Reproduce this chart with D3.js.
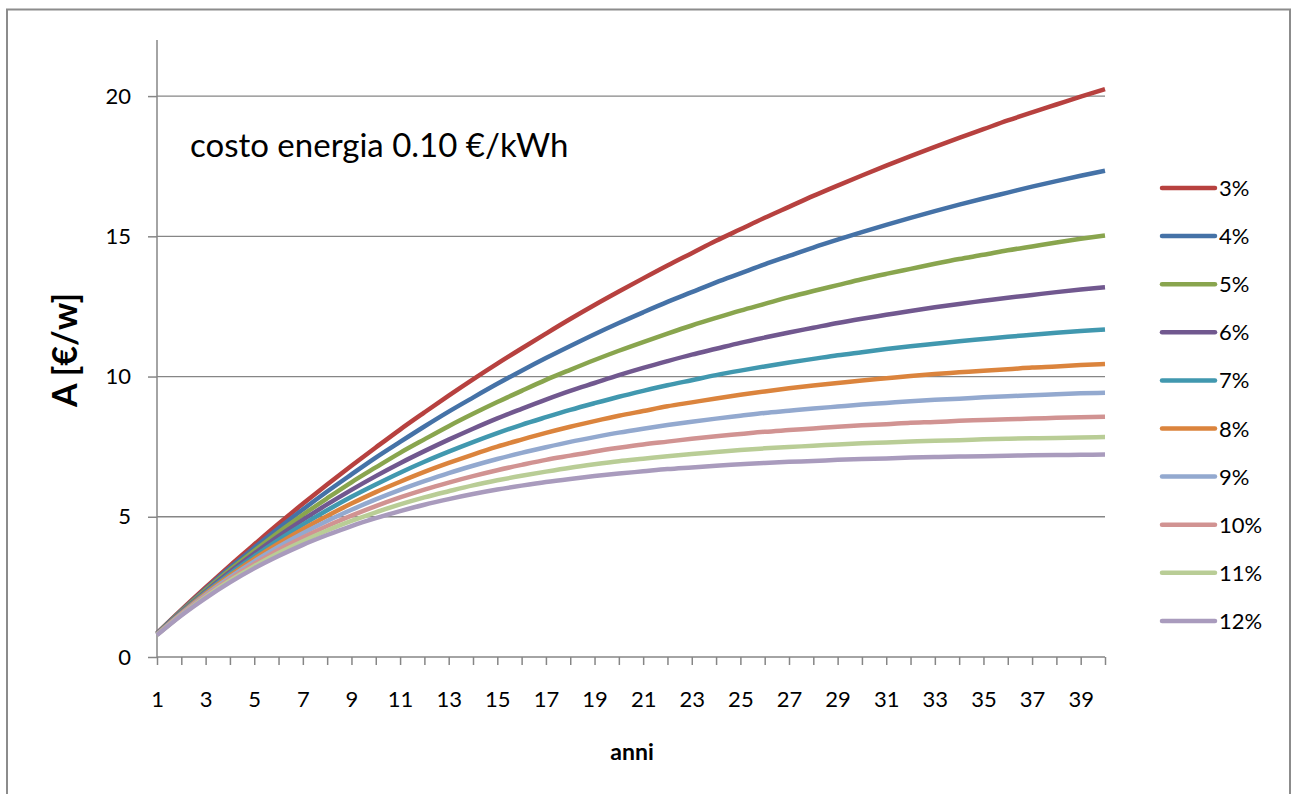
<!DOCTYPE html>
<html>
<head>
<meta charset="utf-8">
<script src="https://cdn.jsdelivr.net/npm/d3@7"></script>
<style>
  body { margin: 0; background: #fff; }
  text { font-family: Lato, "Open Sans", sans-serif; fill: #000; }
</style>
</head>
<body>
<script>
// anni 1..40
var years = d3.range(1, 41);
var yTicks = [0, 5, 10, 15, 20];
var rates = ['3%', '4%', '5%', '6%', '7%', '8%', '9%', '10%', '11%', '12%'];
var colors = ['#B7413F', '#4572A7', '#89A54E', '#71588F', '#4198AF', '#DB843D', '#93A9CF', '#D19392', '#B9CD96', '#A99BBD'];

var r3 = [0.85,1.68,2.48,3.26,4.01,4.75,5.46,6.15,6.82,7.47,8.11,8.72,9.32,9.90,10.46,11.00,11.53,12.05,12.55,13.03,
          13.50,13.96,14.40,14.84,15.25,15.66,16.05,16.44,16.81,17.17,17.52,17.86,18.19,18.51,18.82,19.13,19.42,19.70,19.98,20.25];
var r4 = [0.84,1.65,2.43,3.18,3.90,4.59,5.26,5.90,6.51,7.11,7.67,8.22,8.75,9.25,9.74,10.21,10.66,11.09,11.51,11.91,
          12.29,12.66,13.01,13.36,13.68,14.00,14.30,14.60,14.88,15.15,15.41,15.66,15.90,16.13,16.35,16.56,16.77,16.97,17.16,17.34];
var r5 = [0.83,1.63,2.39,3.11,3.79,4.45,5.07,5.66,6.23,6.76,7.28,7.76,8.23,8.67,9.09,9.49,9.88,10.24,10.59,10.92,
          11.23,11.53,11.82,12.09,12.35,12.59,12.83,13.05,13.26,13.47,13.66,13.84,14.02,14.19,14.34,14.50,14.64,14.78,14.91,15.03];
var r6 = [0.83,1.61,2.34,3.04,3.69,4.31,4.89,5.44,5.96,6.45,6.91,7.34,7.75,8.14,8.51,8.85,9.18,9.49,9.77,10.05,
          10.31,10.55,10.78,10.99,11.20,11.39,11.57,11.74,11.91,12.06,12.20,12.34,12.47,12.59,12.70,12.81,12.91,13.01,13.10,13.18];
var r7 = [0.82,1.58,2.30,2.97,3.59,4.18,4.72,5.23,5.71,6.15,6.57,6.96,7.32,7.66,7.98,8.28,8.55,8.81,9.05,9.28,
          9.49,9.69,9.87,10.05,10.21,10.36,10.50,10.63,10.76,10.87,10.98,11.08,11.17,11.26,11.34,11.42,11.49,11.56,11.62,11.68];
var r8 = [0.81,1.56,2.26,2.90,3.50,4.05,4.56,5.03,5.47,5.88,6.25,6.60,6.92,7.22,7.50,7.75,7.99,8.21,8.41,8.60,
          8.77,8.94,9.08,9.22,9.35,9.47,9.58,9.68,9.77,9.86,9.94,10.02,10.09,10.15,10.21,10.26,10.32,10.36,10.41,10.45];
var r9 = [0.80,1.54,2.22,2.84,3.41,3.93,4.41,4.85,5.25,5.62,5.96,6.27,6.56,6.82,7.06,7.28,7.48,7.67,7.84,8.00,
          8.14,8.27,8.39,8.50,8.60,8.70,8.78,8.86,8.93,9.00,9.06,9.12,9.17,9.21,9.26,9.30,9.33,9.37,9.40,9.42];
var r10 = [0.80,1.52,2.18,2.78,3.32,3.82,4.26,4.67,5.04,5.38,5.69,5.97,6.22,6.45,6.66,6.85,7.03,7.18,7.33,7.46,
           7.58,7.68,7.78,7.87,7.95,8.03,8.09,8.15,8.21,8.26,8.30,8.35,8.38,8.42,8.45,8.48,8.50,8.53,8.55,8.57];
var r11 = [0.79,1.50,2.14,2.72,3.24,3.71,4.13,4.51,4.85,5.16,5.44,5.69,5.91,6.12,6.30,6.46,6.61,6.75,6.87,6.98,
           7.07,7.16,7.24,7.31,7.38,7.44,7.49,7.53,7.58,7.62,7.65,7.68,7.71,7.73,7.76,7.78,7.80,7.81,7.83,7.84];
var r12 = [0.78,1.48,2.10,2.66,3.16,3.60,4.00,4.35,4.67,4.95,5.20,5.43,5.63,5.81,5.97,6.11,6.24,6.35,6.45,6.54,
           6.62,6.70,6.76,6.82,6.87,6.92,6.96,6.99,7.03,7.06,7.08,7.11,7.13,7.15,7.16,7.18,7.19,7.20,7.21,7.22];

var seriesValues = [r3, r4, r5, r6, r7, r8, r9, r10, r11, r12];

var W = 1291, H = 794;
var margin = {top: 40, right: 186, bottom: 137, left: 157},
    width = W - margin.left - margin.right,
    height = H - margin.top - margin.bottom;

var svg = d3.select("body").append("svg")
    .attr("width", W)
    .attr("height", H);

// outer chart border
svg.append("rect")
    .attr("x", 7).attr("y", 9.5)
    .attr("width", 1283).attr("height", 800)
    .attr("fill", "none")
    .attr("stroke", "#8c8c8c")
    .attr("stroke-width", 2);

var g = svg.append("g")
    .attr("transform", "translate(" + margin.left + "," + margin.top + ")");

var x = d3.scalePoint()
    .domain(years)
    .range([0, width]);

var y = d3.scaleLinear()
    .domain([0, 22])
    .range([height, 0]);

// gridlines
g.selectAll(".grid")
  .data(yTicks.filter(function(d) { return d > 0; }))
  .enter().append("line")
    .attr("x1", 0).attr("x2", width)
    .attr("y1", function(d) { return y(d); })
    .attr("y2", function(d) { return y(d); })
    .attr("stroke", "#868686")
    .attr("stroke-width", 1.3);

// y axis
var yAxis = g.append("g")
    .call(d3.axisLeft(y).tickValues(yTicks).tickSize(9).tickPadding(17));
yAxis.select(".domain").remove();
yAxis.append("line")
    .attr("x1", 0).attr("x2", 0)
    .attr("y1", 0).attr("y2", height)
    .attr("stroke", "#868686").attr("stroke-width", 1.5);
yAxis.selectAll(".tick line").attr("stroke", "#868686").attr("stroke-width", 1.5);
yAxis.selectAll("text").style("font-size", "22px").attr("font-family", "Lato, sans-serif");

// x axis
var xAxis = g.append("g")
    .attr("transform", "translate(0," + height + ")")
    .call(d3.axisBottom(x).tickSize(8).tickPadding(26)
      .tickFormat(function(d) { return d % 2 === 1 ? d : ""; }));
xAxis.select(".domain").attr("stroke", "#868686").attr("stroke-width", 1.5)
    .attr("d", "M0,0H" + width);
xAxis.selectAll(".tick line").attr("stroke", "#868686").attr("stroke-width", 1.5);
xAxis.selectAll("text").style("font-size", "22px").attr("font-family", "Lato, sans-serif");

// lines
var line = d3.line()
    .x(function(d, i) { return x(years[i]); })
    .y(function(d) { return y(d); })
    .curve(d3.curveMonotoneX);

g.selectAll(".serie")
  .data(seriesValues)
  .enter().append("path")
    .attr("d", line)
    .attr("fill", "none")
    .attr("stroke", function(d, i) { return colors[i]; })
    .attr("stroke-width", 4.5)
    .attr("stroke-linejoin", "round");

// annotation
g.append("text")
    .attr("x", 33).attr("y", 117)
    .style("font-size", "33px")
    .text("costo energia 0.10 €/kWh");

// axis titles
svg.append("text")
    .attr("x", 632).attr("y", 760)
    .attr("text-anchor", "middle")
    .style("font-size", "23px").style("font-weight", "bold")
    .text("anni");

svg.append("text")
    .attr("transform", "translate(77,350) rotate(-90)")
    .attr("text-anchor", "middle")
    .style("font-size", "34px").style("font-weight", "bold")
    .text("A [€/w]");

// legend
var legend = svg.append("g")
    .attr("transform", "translate(1160,188)");
var item = legend.selectAll(".item")
  .data(rates)
  .enter().append("g")
    .attr("transform", function(d, i) { return "translate(0," + (i * 48.1) + ")"; });
item.append("line")
    .attr("x1", 2).attr("x2", 55)
    .attr("stroke", function(d, i) { return colors[i]; })
    .attr("stroke-width", 4.5)
    .attr("stroke-linecap", "round");
item.append("text")
    .attr("x", 59).attr("y", 8)
    .style("font-size", "22px")
    .text(function(d) { return d; });
</script>
</body>
</html>
